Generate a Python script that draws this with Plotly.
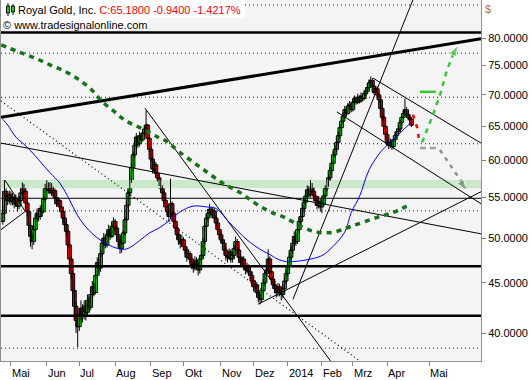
import numpy as np
import plotly.graph_objects as go

# ---------------- data ----------------
# trading-day index: 0 = 1 May 2013, first candle at index -5
first_index = -5
first_open = 52.0
close = [
    53.0, 55.8, 55.2, 54.6, 55.4, 54.5,
    55.0, 54.2, 54.8, 53.9, 54.6,
    55.6, 56.5, 55.8, 54.3, 53.2,
    51.5, 50.2, 49.6, 51.0, 52.4,
    53.0, 52.6, 53.6, 53.2,
    54.8, 56.2, 56.8, 55.9, 56.6,
    55.6, 55.9, 55.0, 54.2, 54.6,
    53.8, 53.2, 52.4, 51.6, 50.8,
    49.2, 47.6, 46.0, 44.2, 42.6,
    41.2, 40.6, 41.8, 42.4, 41.6,
    42.6, 42.0, 43.2, 42.5, 43.8,
    44.6, 44.0, 45.8, 47.2, 46.6,
    48.2, 49.4, 50.0, 49.2, 50.4,
    51.0, 50.2, 51.4, 52.0, 51.2,
    50.4, 49.6, 48.8, 49.4, 50.6,
    52.2, 54.0, 55.6, 57.2, 59.0,
    60.8, 62.2, 63.4, 62.4, 63.6,
    63.0, 64.0, 64.6, 65.2, 63.2,
    61.6, 60.2, 58.8, 59.4, 58.2,
    57.6, 57.0, 56.2, 55.6, 54.6,
    53.8, 53.2, 52.6, 54.2, 53.0,
    52.0, 51.2, 50.4, 49.8, 49.4,
    49.8, 49.0, 48.6, 47.8, 48.2,
    47.6, 47.0, 46.6, 47.4, 47.0,
    46.4, 47.6, 48.0, 49.6, 51.4,
    52.4, 53.0, 53.5, 52.8, 53.3,
    52.4, 51.8, 51.0, 50.4, 49.8,
    49.4, 48.6, 48.0, 47.8, 48.4,
    47.6, 48.0, 48.8, 49.6, 48.6,
    47.8, 47.2, 47.6, 46.8, 46.4,
    46.8, 46.2, 45.8, 45.2, 44.6,
    44.8, 44.0, 43.5, 43.3, 44.2,
    45.0, 46.0, 46.4, 47.6, 46.2,
    45.4, 44.8, 44.4, 44.0, 44.6,
    44.0, 43.8, 44.4, 45.2, 46.0,
    46.8, 47.8, 48.6, 49.4, 50.2,
    49.6, 51.0, 52.0, 52.6, 53.6,
    54.4, 55.2, 56.0, 55.4, 56.4,
    55.8, 55.2, 54.6, 54.0, 54.4,
    53.8, 54.2, 55.2, 56.2, 56.8,
    57.6, 58.6, 59.6, 60.8, 61.6,
    62.6, 63.6, 64.8, 65.8, 66.6,
    67.6, 67.0, 68.2, 68.4, 67.6,
    68.8, 69.4, 68.8, 69.6, 69.0,
    69.8, 69.4, 70.2, 70.6, 71.2,
    72.0, 72.4, 71.4, 70.4, 71.0,
    70.0, 69.2, 67.8, 66.4, 65.0,
    63.8, 62.6, 62.2, 62.6, 62.0,
    63.0, 63.6, 64.2, 64.6, 65.6,
    66.4, 67.0, 67.6, 66.8, 66.4,
    66.12, 65.18]
high = [
    53.8, 57.3, 56.2, 55.6, 55.9, 55.8,
    55.6, 55.3, 55.4, 55.0, 55.2,
    56.0, 57.0, 56.8, 56.0, 54.8,
    53.4, 51.8, 50.6, 51.4, 52.8,
    53.6, 53.4, 54.0, 54.2,
    55.2, 56.8, 57.3, 57.0, 57.0,
    56.9, 56.4, 56.2, 55.4, 55.0,
    54.9, 54.2, 53.6, 52.8, 52.0,
    51.0, 49.6, 48.0, 46.4, 44.6,
    43.0, 41.8, 42.4, 43.2, 42.8,
    43.2, 42.9, 43.8, 43.6, 44.4,
    45.2, 45.0, 46.2, 47.8, 47.6,
    48.6, 49.9, 50.6, 50.3, 50.9,
    51.6, 51.2, 51.8, 52.5, 52.3,
    51.5, 50.8, 49.9, 49.8, 50.9,
    52.6, 54.5, 56.0, 57.8, 59.6,
    61.3, 62.8, 64.0, 63.6, 64.2,
    64.0, 64.4, 65.0, 67.5, 65.4,
    63.4, 61.9, 60.5, 60.0, 59.8,
    58.6, 58.0, 57.4, 56.6, 55.9,
    54.9, 54.2, 53.6, 57.5, 54.5,
    53.3, 52.4, 51.5, 50.7, 50.2,
    50.4, 50.1, 49.4, 48.9, 48.7,
    48.5, 47.9, 47.4, 47.9, 47.8,
    47.3, 48.0, 48.5, 50.0, 51.8,
    52.8, 53.5, 54.2, 53.8, 53.8,
    53.6, 52.8, 52.2, 51.4, 50.8,
    50.2, 49.8, 48.9, 48.4, 48.8,
    48.7, 48.4, 49.2, 50.2, 49.9,
    48.9, 48.2, 47.9, 47.9, 47.2,
    47.2, 47.0, 46.5, 46.1, 45.5,
    45.3, 45.1, 44.3, 43.9, 44.6,
    45.4, 46.4, 46.9, 48.7, 47.9,
    46.5, 45.8, 45.2, 44.8, 45.0,
    44.9, 44.4, 44.8, 45.6, 46.4,
    47.2, 48.3, 49.1, 49.9, 50.8,
    50.6, 51.4, 52.5, 53.2, 54.1,
    54.9, 55.8, 56.6, 56.5, 57.3,
    56.9, 56.3, 55.7, 55.0, 55.2,
    54.8, 54.7, 55.7, 56.6, 57.3,
    58.1, 59.1, 60.1, 61.3, 62.2,
    63.1, 64.2, 65.4, 66.4, 67.2,
    68.2, 68.0, 68.7, 69.0, 68.8,
    69.2, 69.9, 69.7, 70.2, 69.9,
    70.4, 70.2, 70.8, 71.2, 71.9,
    72.6, 73.1, 72.8, 71.8, 71.5,
    71.4, 70.4, 69.6, 68.2, 66.8,
    65.3, 64.1, 63.0, 63.2, 63.0,
    63.4, 64.0, 64.7, 65.1, 66.0,
    66.9, 67.4, 69.4, 68.0, 67.2,
    66.9, 66.4]
low = [
    51.6, 52.8, 54.6, 54.0, 54.2, 54.0,
    54.0, 53.6, 53.8, 53.2, 53.5,
    54.2, 55.2, 55.4, 54.0, 52.6,
    51.0, 49.0, 48.7, 49.2, 50.6,
    52.0, 52.0, 52.2, 52.6,
    53.0, 54.4, 55.8, 55.5, 55.4,
    55.2, 55.2, 54.6, 53.8, 53.9,
    53.4, 52.6, 51.8, 51.0, 50.2,
    48.8, 47.0, 45.4, 43.6, 41.8,
    40.0, 38.7, 40.2, 41.2, 41.0,
    41.3, 41.2, 41.7, 42.0, 42.2,
    43.4, 43.6, 43.8, 45.4, 46.0,
    46.2, 47.8, 49.0, 48.8, 48.9,
    50.0, 49.8, 50.0, 51.0, 50.8,
    50.0, 49.2, 48.2, 48.3, 49.0,
    50.3, 51.8, 53.6, 55.2, 56.9,
    58.6, 60.4, 61.8, 61.8, 62.0,
    62.6, 62.7, 63.6, 64.2, 62.8,
    61.2, 59.8, 58.2, 58.4, 57.8,
    57.1, 56.5, 55.8, 55.0, 54.2,
    53.3, 52.7, 52.0, 52.3, 52.6,
    51.6, 50.8, 49.8, 49.2, 48.8,
    49.0, 48.6, 48.2, 47.3, 47.5,
    47.2, 46.5, 46.1, 46.3, 46.6,
    45.8, 46.0, 47.2, 47.7, 49.3,
    51.0, 52.0, 52.6, 52.4, 52.5,
    52.0, 51.4, 50.6, 49.9, 49.4,
    48.9, 48.1, 47.4, 47.2, 47.5,
    47.2, 47.2, 47.7, 48.5, 48.2,
    47.4, 46.8, 46.9, 46.4, 45.9,
    46.0, 45.8, 45.4, 44.8, 44.1,
    44.2, 43.6, 43.0, 42.8, 43.0,
    43.9, 44.7, 45.6, 46.0, 45.9,
    45.0, 44.4, 43.9, 43.5, 43.6,
    43.6, 43.2, 43.4, 44.0, 44.9,
    45.7, 46.4, 47.4, 48.2, 49.0,
    49.1, 49.3, 50.6, 51.6, 52.2,
    53.2, 54.0, 54.8, 55.0, 55.0,
    55.3, 54.7, 54.1, 53.5, 53.6,
    53.2, 53.0, 53.9, 54.9, 55.8,
    56.4, 57.2, 58.2, 59.2, 60.4,
    61.2, 62.2, 63.2, 64.4, 65.3,
    66.2, 66.5, 66.8, 67.8, 67.2,
    67.3, 68.4, 68.4, 68.5, 68.6,
    68.7, 69.0, 69.1, 69.8, 70.2,
    70.8, 71.6, 71.0, 70.0, 70.0,
    69.6, 68.8, 67.3, 65.9, 64.6,
    63.3, 62.1, 61.6, 61.8, 61.5,
    61.7, 62.6, 63.2, 63.8, 64.2,
    65.2, 66.0, 66.6, 66.4, 65.9,
    65.7, 64.9]

# moving averages
ma50_idx = [-5, -2, 3, 10, 24, 30, 36, 41, 48, 58, 70, 79, 85, 91, 98, 104, 112,
            120, 126, 134, 145, 153, 159, 165, 171, 190, 196, 205, 209, 214, 220,
            227, 232, 239, 246]
ma50_val = [66.1, 65.2, 63.4, 61.9, 58.3, 56.9, 54.7, 52.7, 50.9, 49.4, 48.7, 49.7,
            50.6, 51.2, 52.2, 53.2, 53.9, 53.8, 53.6, 51.9, 49.8, 48.7, 48.1, 47.5,
            47.3, 47.9, 48.7, 50.7, 53.1, 55.1, 58.7, 61.2, 62.4, 64.0, 65.7]
ma200_idx = [-6, 5, 15, 24, 33, 42, 50, 55, 63, 71, 81, 90, 96, 103, 116, 130,
             141, 149, 159, 168, 179, 188, 198, 209, 225, 234, 243]
ma200_val = [78.7, 77.4, 76.3, 75.1, 74.0, 72.5, 70.7, 69.15, 67.4, 65.8, 64.6,
             63.4, 62.7, 61.3, 59.1, 56.9, 55.6, 54.4, 53.2, 52.5, 51.3, 50.7,
             50.7, 51.4, 52.5, 53.05, 53.9]

# x axis ticks (first trading day of each month)
month_tick_idx = [0, 22, 42, 64, 86, 106, 129, 149, 170, 191, 210, 231, 257]
month_labels = ["Mai", "Jun", "Jul", "Aug", "Sep", "Okt", "Nov", "Dez",
                "2014", "Feb", "Mrz", "Apr", "Mai"]
y_tick_vals = [40, 45, 50, 55, 60, 65, 70, 75, 80]
y_tick_text = ["40.0000", "45.0000", "50.0000", "55.0000", "60.0000",
               "65.0000", "70.0000", "75.0000", "80.0000"]

# drawing objects (index, price)
x_min, x_max = -6.1, 288.7
y_min, y_max = 37.46, 87.47
grid_levels = [86.45, 77.2, 69.6, 62.4, 53.3, 38.6]
thick_levels = [81.05, 46.8, 41.66]
thin_levels = [54.9]
band_lo, band_hi = 56.2, 57.3
thick_trend = [(-6.1, 66.4), (288.7, 79.85)]
thin_trends = [
    [(82.3, 67.85), (196.6, 37.4)],
    [(-6.1, 62.5), (288.7, 50.5)],
    [(222.4, 72.8), (288.7, 62.5)],
    [(200.2, 67.25), (288.7, 54.2)],
    [(151.7, 42.8), (288.7, 55.75)],
    [(173.2, 43.3), (246.9, 87.5)],
    [(-3.7, 57.3), (8.6, 53.3)],
    [(-6.1, 51.0), (8.6, 53.2)],
]
dotted_trend = [(-6.1, 69.0), (214.4, 37.45)]
green_proj = [(252.5, 62.6), (258.6, 66.4), (263.5, 69.97), (267.8, 74.2), (272.7, 77.8)]
green_head = [(271.5, 76.9), (274.6, 78.7)]
green_flat = [(251.2, 70.5), (261.0, 70.5)]
red_proj = [(246.9, 66.8), (250.0, 64.45), (250.6, 62.6)]
gray_flat = [(251.2, 61.8), (261.7, 61.8)]
gray_proj = [(263.5, 61.5), (279.5, 56.2)]
gray_head = [(277.0, 56.8), (280.1, 55.9)]

# ---------------- figure ----------------
opens = [first_open] + close[:-1]
idx = list(range(first_index, first_index + len(close)))

fig = go.Figure()


def seg_trace(points, color, width, dash="solid"):
    return go.Scatter(x=[p[0] for p in points], y=[p[1] for p in points],
                      mode="lines", line=dict(color=color, width=width, dash=dash),
                      hoverinfo="skip")


# green band
fig.add_trace(go.Scatter(x=[x_min, x_max, x_max, x_min], y=[band_lo, band_lo, band_hi, band_hi],
                         fill="toself", fillcolor="#cbe8cb", mode="lines",
                         line=dict(width=0, color="#cbe8cb"), hoverinfo="skip"))
# blue dotted levels
gx, gy = [], []
for lv in grid_levels:
    gx += [x_min, x_max, None]
    gy += [lv, lv, None]
fig.add_trace(go.Scatter(x=gx, y=gy, mode="lines",
                         line=dict(color="#0000ff", width=1, dash="1px,3px"), hoverinfo="skip"))

# candles: wicks then bodies
wx, wy = [], []
for i, lo, hi in zip(idx, low, high):
    wx += [i, i, None]
    wy += [lo, hi, None]
fig.add_trace(go.Scatter(x=wx, y=wy, mode="lines", line=dict(color="#000000", width=1),
                         hoverinfo="skip"))
body_base = [min(o, c) for o, c in zip(opens, close)]
body_size = [max(abs(c - o), 0.08) for o, c in zip(opens, close)]
body_col = ["#00e400" if c >= o else "#ff0000" for o, c in zip(opens, close)]
fig.add_trace(go.Bar(x=idx, y=body_size, base=body_base, width=2.3,
                     marker=dict(color=body_col, line=dict(color="#000000", width=1)),
                     hoverinfo="skip"))

# horizontal lines
for lv in thick_levels:
    fig.add_trace(seg_trace([(x_min, lv), (x_max, lv)], "#000000", 2.5))
for lv in thin_levels:
    fig.add_trace(seg_trace([(x_min, lv), (x_max, lv)], "#000000", 1))
# trend lines
for tl in thin_trends:
    fig.add_trace(seg_trace(tl, "#000000", 1))
fig.add_trace(seg_trace(dotted_trend, "#000000", 1.2, "1px,3px"))
fig.add_trace(seg_trace(thick_trend, "#000000", 3))

# moving averages
fig.add_trace(go.Scatter(x=ma50_idx, y=ma50_val, mode="lines",
                         line=dict(color="#0000ff", width=1, shape="spline"), hoverinfo="skip"))
fig.add_trace(go.Scatter(x=ma200_idx, y=ma200_val, mode="lines",
                         line=dict(color="#17701a", width=3.5, dash="5px,5px", shape="spline"),
                         hoverinfo="skip"))

# projections
fig.add_trace(seg_trace(green_proj, "#36c836", 2.5, "5px,5px"))
fig.add_trace(seg_trace(green_flat, "#36c836", 2.5))
fig.add_trace(go.Scatter(x=[p[0] for p in green_head], y=[p[1] for p in green_head],
                         mode="markers", marker=dict(symbol="arrow", size=[0, 12],
                                                     angleref="previous", color="#36c836"),
                         hoverinfo="skip"))
fig.add_trace(seg_trace(red_proj, "#ff0000", 2.5, "4px,6px"))
fig.add_trace(seg_trace(gray_flat, "#a0a0a0", 2.5, "6px,4px"))
fig.add_trace(seg_trace(gray_proj, "#909090", 2.5, "4px,5px"))
fig.add_trace(go.Scatter(x=[p[0] for p in gray_head], y=[p[1] for p in gray_head],
                         mode="markers", marker=dict(symbol="arrow", size=[0, 12],
                                                     angleref="previous", color="#6e7e6e"),
                         hoverinfo="skip"))

W, H = 531, 380
ml, mr, mt, mb = 1, 50, 0, 19
pw, ph = W - ml - mr, H - mt - mb


def px_x(px):
    return (px - ml) / pw


def px_y(py):
    return 1 - (py - mt) / ph


shapes = [
    dict(type="rect", xref="paper", yref="paper", x0=0, x1=px_x(245), y0=px_y(18), y1=1,
         fillcolor="#ffffff", line=dict(width=0), layer="above"),
    dict(type="rect", xref="paper", yref="paper", x0=0, x1=px_x(148), y0=px_y(30), y1=px_y(18),
         fillcolor="#ffffff", line=dict(width=0), layer="above"),
    # small candle icon
    dict(type="line", xref="paper", yref="paper", x0=px_x(8), x1=px_x(8), y0=px_y(16), y1=px_y(3),
         line=dict(color="#000", width=1), layer="above"),
    dict(type="rect", xref="paper", yref="paper", x0=px_x(6.5), x1=px_x(9.5), y0=px_y(13), y1=px_y(6),
         fillcolor="#00e400", line=dict(color="#000", width=1), layer="above"),
    dict(type="line", xref="paper", yref="paper", x0=px_x(13), x1=px_x(13), y0=px_y(15), y1=px_y(4),
         line=dict(color="#000", width=1), layer="above"),
    dict(type="rect", xref="paper", yref="paper", x0=px_x(11.5), x1=px_x(14.5), y0=px_y(12), y1=px_y(6),
         fillcolor="#00e400", line=dict(color="#000", width=1), layer="above"),
]

annotations = [
    dict(xref="paper", yref="paper", x=px_x(17), y=px_y(10), xanchor="left", yanchor="middle",
         showarrow=False, borderpad=0,
         text="Royal Gold, Inc. <span style='color:#ff0000'>C:65.1800 -0.9400 -1.4217%</span>",
         font=dict(size=11, color="#000000")),
    dict(xref="paper", yref="paper", x=px_x(2), y=px_y(25), xanchor="left", yanchor="middle",
         showarrow=False, borderpad=0, text="© www.tradesignalonline.com",
         font=dict(size=11, color="#000000")),
    dict(xref="paper", yref="paper", x=px_x(488), y=px_y(9), xanchor="center", yanchor="middle",
         showarrow=False, text="$", font=dict(size=11, color="#b87418")),
]
for ti, lab in zip(month_tick_idx, month_labels):
    annotations.append(dict(x=ti, xref="x", y=0, yref="paper", xanchor="left", yanchor="top",
                            xshift=0, yshift=-5, showarrow=False, borderpad=0, text=lab,
                            font=dict(size=11, color="#000000")))

fig.update_layout(
    width=W, height=H, autosize=False,
    margin=dict(l=ml, r=mr, t=mt, b=mb, pad=0),
    paper_bgcolor="#ffffff", plot_bgcolor="#f4f4f4",
    font=dict(family="Liberation Sans, Arial, sans-serif", size=11, color="#000000"),
    showlegend=False, barmode="overlay",
    shapes=shapes, annotations=annotations,
    xaxis=dict(type="linear", range=[x_min, x_max], showgrid=False, zeroline=False,
               tickvals=month_tick_idx, ticktext=[""] * len(month_tick_idx),
               ticks="outside", ticklen=4, tickcolor="#808080", showline=True,
               linecolor="#909090", linewidth=1, mirror=True, fixedrange=True),
    yaxis=dict(type="log", side="right", range=[np.log10(y_min), np.log10(y_max)],
               showgrid=False, zeroline=False, tickvals=y_tick_vals, ticktext=y_tick_text,
               ticks="outside", ticklen=4, tickcolor="#808080", showline=True,
               linecolor="#909090", linewidth=1, mirror=True,
               tickfont=dict(size=11, color="#000000"), fixedrange=True),
)

fig.write_html("out.html")
